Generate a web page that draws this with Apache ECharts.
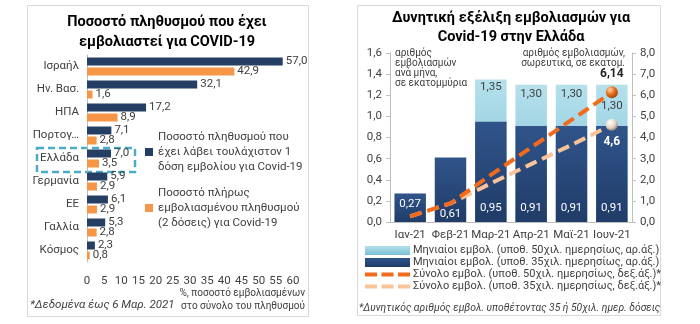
<!DOCTYPE html>
<html>
<head>
<meta charset="utf-8">
<script src="https://cdn.jsdelivr.net/npm/echarts@6/dist/echarts.min.js"></script>
<style>
  html, body { margin: 0; padding: 0; background: #fff; }
  #chart { width: 700px; height: 324px; }
</style>
</head>
<body>
<div id="chart"></div>
<script>
// ---------- Data (left chart) ----------
const countries = ['Ισραήλ', 'Ην. Βασ.', 'ΗΠΑ', 'Πορτογ…', 'Ελλάδα', 'Γερμανία', 'ΕΕ', 'Γαλλία', 'Κόσμος'];
const atLeastOneDose = [57.0, 32.1, 17.2, 7.1, 7.0, 5.9, 6.1, 5.3, 2.3];
const fullyVaccinated = [42.9, 1.6, 8.9, 2.8, 3.5, 2.9, 2.9, 2.8, 0.8];
const leftTicks = [0, 5, 10, 15, 20, 25, 30, 35, 40, 45, 50, 55, 60];

// ---------- Data (right chart) ----------
const months = ['Ιαν-21', 'Φεβ-21', 'Μαρ-21', 'Απρ-21', 'Μαϊ-21', 'Ιουν-21'];
const monthly50k = [null, null, 1.35, 1.30, 1.30, 1.30];
const monthly35k = [0.27, 0.61, 0.95, 0.91, 0.91, 0.91];
const cumulative50k = [0.27, 0.88, 2.23, 3.53, 4.83, 6.14];
const cumulative35k = [0.27, 0.88, 1.83, 2.74, 3.65, 4.6];
const leftAxisTicks = [0, 0.2, 0.4, 0.6, 0.8, 1.0, 1.2, 1.4, 1.6];
const rightAxisTicks = [0, 1, 2, 3, 4, 5, 6, 7, 8];

const nameDose1 = 'Ποσοστό πληθυσμού που έχει λάβει τουλάχιστον 1 δόση εμβολίου για Covid-19';
const nameFull = 'Ποσοστό πλήρως εμβολιασμένου πληθυσμού (2 δόσεις) για Covid-19';
const nameM50 = 'Μηνιαίοι εμβολ. (υποθ. 50χιλ. ημερησίως, αρ.άξ.)';
const nameM35 = 'Μηνιαίοι εμβολ. (υποθ. 35χιλ. ημερησίως, αρ.άξ.)';
const nameC50 = 'Σύνολο εμβολ. (υποθ. 50χιλ. ημερησίως, δεξ.άξ.)*';
const nameC35 = 'Σύνολο εμβολ. (υποθ. 35χιλ. ημερησίως, δεξ.άξ.)*';

// ---------- Helpers ----------
const FONT = 'Roboto';
const TXT = '#404040';
const fmt1 = v => Number(v).toFixed(1).replace('.', ',');
const fmt2 = v => Number(v).toFixed(2).replace('.', ',');

const chart = echarts.init(document.getElementById('chart'), null, { renderer: 'canvas' });

const darkGrad = new echarts.graphic.LinearGradient(0, 0, 0, 1, [
  { offset: 0, color: '#30548a' }, { offset: 1, color: '#203c68' }
]);
const lightGrad = new echarts.graphic.LinearGradient(0, 0, 0, 1, [
  { offset: 0, color: '#b5e0ec' }, { offset: 1, color: '#78bfd5' }
]);
const ballOrange = new echarts.graphic.RadialGradient(0.35, 0.3, 0.75, [
  { offset: 0, color: '#ffd8b0' }, { offset: 0.5, color: '#e8701f' }, { offset: 1, color: '#9c400a' }
]);
const ballLight = new echarts.graphic.RadialGradient(0.35, 0.3, 0.75, [
  { offset: 0, color: '#ffffff' }, { offset: 0.6, color: '#e9d3c2' }, { offset: 1, color: '#8a7a70' }
]);

// per-item label placements for right chart bars
const lightLabelDist = [3, 3, 2, 3, 3, 15];
const darkLabelPos = ['insideTop', 'insideBottom', 'insideBottom', 'insideBottom', 'insideBottom', 'insideBottom'];
const darkLabelDist = [5, 2, 8, 8, 8, 8];

const lightData = monthly50k.map((v, i) => ({
  value: v,
  label: { distance: lightLabelDist[i] }
}));
const darkData = monthly35k.map((v, i) => ({
  value: v,
  label: { position: darkLabelPos[i], distance: darkLabelDist[i] }
}));

const dashIcon = 'path://M0,0h12v4h-12z M16.5,0h12v4h-12z M33,0h12v4h-12z';

const option = {
  animation: false,
  textStyle: { fontFamily: FONT },
  grid: [
    { left: 87, top: 55, width: 206, height: 207 },
    { left: 390, top: 53, width: 242, height: 169 }
  ],
  xAxis: [
    {
      gridIndex: 0, type: 'value', min: 0, max: 60, interval: 5,
      axisLine: { show: false }, axisTick: { show: false }, splitLine: { show: false },
      axisLabel: { fontSize: 11.5, color: TXT, margin: 13, fontFamily: FONT,
        formatter: v => leftTicks.includes(v) ? String(v) : '' }
    },
    {
      gridIndex: 1, type: 'category', data: months,
      axisLine: { lineStyle: { color: '#bfbfbf' } }, axisTick: { show: false },
      axisLabel: { fontSize: 11.5, color: TXT, margin: 7, fontFamily: FONT, interval: 0 }
    }
  ],
  yAxis: [
    {
      gridIndex: 0, type: 'category', data: countries, inverse: true,
      axisLine: { lineStyle: { color: '#bfbfbf' } }, axisTick: { show: false },
      axisLabel: { fontSize: 11.5, color: TXT, margin: 8, fontFamily: FONT }
    },
    {
      gridIndex: 1, type: 'value', min: 0, max: 1.6, interval: 0.2, position: 'left',
      axisLine: { show: true, lineStyle: { color: '#bfbfbf' } },
      axisTick: { show: true, length: 4, lineStyle: { color: '#bfbfbf' } },
      splitLine: { show: false },
      axisLabel: { fontSize: 11.5, color: TXT, margin: 8, fontFamily: FONT, formatter: v => fmt1(v) }
    },
    {
      gridIndex: 1, type: 'value', min: 0, max: 8, interval: 1, position: 'right',
      axisLine: { show: true, lineStyle: { color: '#bfbfbf' } },
      axisTick: { show: true, length: 4, lineStyle: { color: '#bfbfbf' } },
      splitLine: { show: false },
      axisLabel: { fontSize: 11.5, color: TXT, margin: 8, fontFamily: FONT, formatter: v => fmt1(v) }
    }
  ],
  legend: [
    {
      data: [nameDose1], left: 145, top: 114.5, padding: 0, orient: 'vertical',
      itemWidth: 8, itemHeight: 8, itemGap: 0, icon: 'rect', selectedMode: false,
      formatter: () => 'Ποσοστό πληθυσμού που\nέχει λάβει τουλάχιστον 1\nδόση εμβολίου για Covid-19',
      textStyle: { fontSize: 11.5, color: TXT, lineHeight: 15, padding: [30, 0, 0, 0], fontFamily: FONT }
    },
    {
      data: [nameFull], left: 145, top: 170.5, padding: 0, orient: 'vertical',
      itemWidth: 8, itemHeight: 8, itemGap: 0, icon: 'rect', selectedMode: false,
      formatter: () => 'Ποσοστό πλήρως\nεμβολιασμένου πληθυσμού\n(2 δόσεις) για Covid-19',
      textStyle: { fontSize: 11.5, color: TXT, lineHeight: 15, padding: [30, 0, 0, 0], fontFamily: FONT }
    },
    {
      data: [
        { name: nameM50, icon: 'rect' },
        { name: nameM35, icon: 'rect' },
        { name: nameC50, icon: dashIcon, itemStyle: { color: '#f26b1d' } },
        { name: nameC35, icon: dashIcon, itemStyle: { color: '#fbc498' } }
      ],
      left: 365, top: 245, padding: 0, orient: 'vertical',
      itemWidth: 45, itemHeight: 9, itemGap: 1, itemSymbolKeepAspect: true, selectedMode: false,
      textStyle: { fontSize: 11, color: TXT, fontFamily: FONT, padding: [0, 0, 0, -2] }
    }
  ],
  series: [
    {
      name: nameDose1, type: 'bar', xAxisIndex: 0, yAxisIndex: 0, data: atLeastOneDose,
      barWidth: 8, barGap: '25%',
      itemStyle: { color: '#243f63' },
      label: { show: true, position: 'right', distance: 3, fontSize: 11.5, color: TXT, fontFamily: FONT,
        formatter: p => fmt1(p.value) }
    },
    {
      name: nameFull, type: 'bar', xAxisIndex: 0, yAxisIndex: 0, data: fullyVaccinated,
      barWidth: 8, barGap: '25%',
      itemStyle: { color: '#f79646' },
      label: { show: true, position: 'right', distance: 3, fontSize: 11.5, color: TXT, fontFamily: FONT,
        formatter: p => fmt1(p.value) }
    },
    {
      name: nameM50, type: 'bar', xAxisIndex: 1, yAxisIndex: 1, data: lightData,
      barCategoryGap: '22%', barGap: '-100%', z: 2,
      itemStyle: { color: lightGrad },
      label: { show: true, position: 'insideTop', fontSize: 11.5, color: TXT, fontFamily: FONT,
        formatter: p => p.value == null ? '' : fmt2(p.value) }
    },
    {
      name: nameM35, type: 'bar', xAxisIndex: 1, yAxisIndex: 1, data: darkData,
      barCategoryGap: '22%', barGap: '-100%', z: 3,
      itemStyle: { color: darkGrad },
      label: { show: true, fontSize: 11.5, color: '#ffffff', fontFamily: FONT,
        formatter: p => fmt2(p.value) }
    },
    {
      name: nameC35, type: 'line', xAxisIndex: 1, yAxisIndex: 2, data: cumulative35k, z: 5,
      symbol: 'circle', showSymbol: true,
      symbolSize: (v, p) => p.dataIndex === cumulative35k.length - 1 ? 12 : 0,
      lineStyle: { color: '#fbc498', width: 4, type: [12, 6], cap: 'butt' },
      itemStyle: { color: ballLight, borderWidth: 0 },
      label: { show: true, position: 'bottom', distance: 5, fontSize: 12, fontWeight: 'bold', color: '#ffffff',
        fontFamily: FONT, formatter: p => p.dataIndex === cumulative35k.length - 1 ? fmt1(p.value) : '' }
    },
    {
      name: nameC50, type: 'line', xAxisIndex: 1, yAxisIndex: 2, data: cumulative50k, z: 6,
      symbol: 'circle', showSymbol: true,
      symbolSize: (v, p) => p.dataIndex === cumulative50k.length - 1 ? 12 : 0,
      lineStyle: { color: '#f26b1d', width: 4, type: [12, 6], cap: 'butt' },
      itemStyle: { color: ballOrange, borderWidth: 0 },
      label: { show: true, position: 'top', distance: 6, fontSize: 12, fontWeight: 'bold', color: '#262626',
        fontFamily: FONT, formatter: p => p.dataIndex === cumulative50k.length - 1 ? fmt2(p.value) : '' }
    }
  ],
  graphic: [
    { type: 'rect', silent: true, shape: { x: 27.5, y: 5.5, width: 281, height: 311 },
      style: { fill: 'none', stroke: '#d9d9d9', lineWidth: 1 } },
    { type: 'rect', silent: true, shape: { x: 357.5, y: 5.5, width: 303, height: 310 },
      style: { fill: 'none', stroke: '#d9d9d9', lineWidth: 1 } },
    { type: 'text', silent: true, style: { text: 'Ποσοστό πληθυσμού που έχει', x: 167, y: 22,
      textAlign: 'center', textVerticalAlign: 'middle', font: 'bold 14.5px ' + FONT, fill: '#000' } },
    { type: 'text', silent: true, style: { text: 'εμβολιαστεί για COVID-19', x: 167, y: 42,
      textAlign: 'center', textVerticalAlign: 'middle', font: 'bold 14.5px ' + FONT, fill: '#000' } },
    { type: 'text', silent: true, style: { text: 'Δυνητική εξέλιξη εμβολιασμών για', x: 511, y: 18,
      textAlign: 'center', textVerticalAlign: 'middle', font: 'bold 14.5px ' + FONT, fill: '#000' } },
    { type: 'text', silent: true, style: { text: 'Covid-19 στην Ελλάδα', x: 511, y: 37,
      textAlign: 'center', textVerticalAlign: 'middle', font: 'bold 14.5px ' + FONT, fill: '#000' } },
    { type: 'rect', silent: true, shape: { x: 37, y: 148, width: 98, height: 24 },
      style: { fill: 'none', stroke: '#4bacc6', lineWidth: 2.5, lineDash: [7, 4] } },
    { type: 'text', silent: true, style: { text: '*Δεδομένα έως 6 Μαρ. 2021', x: 30, y: 305,
      textAlign: 'left', textVerticalAlign: 'middle', font: 'italic 11.5px ' + FONT, fill: TXT } },
    { type: 'text', silent: true, style: { text: '%, ποσοστό εμβολιασμένων', x: 305, y: 293,
      textAlign: 'right', textVerticalAlign: 'middle', font: '10px ' + FONT, fill: TXT } },
    { type: 'text', silent: true, style: { text: 'στο σύνολο του πληθυσμού', x: 305, y: 306,
      textAlign: 'right', textVerticalAlign: 'middle', font: '10px ' + FONT, fill: TXT } },
    { type: 'text', silent: true, style: { text: 'αριθμός\nεμβολιασμών\nανά μήνα,\nσε εκατομμύρια', x: 395, y: 48,
      textAlign: 'left', textVerticalAlign: 'top', font: '10px ' + FONT, fill: TXT, lineHeight: 10 } },
    { type: 'text', silent: true, style: { text: 'αριθμός εμβολιασμών,', x: 625, y: 53,
      textAlign: 'right', textVerticalAlign: 'middle', font: '10px ' + FONT, fill: TXT } },
    { type: 'text', silent: true, style: { text: 'σωρευτικά, σε εκατομ.', x: 625, y: 63,
      textAlign: 'right', textVerticalAlign: 'middle', font: '10px ' + FONT, fill: TXT } },
    { type: 'text', silent: true, style: { text: '*Δυνητικός αριθμός εμβολ. υποθέτοντας 35 ή 50χιλ. ημερ. δόσεις', x: 359, y: 308,
      textAlign: 'left', textVerticalAlign: 'middle', font: 'italic 10.3px ' + FONT, fill: TXT } }
  ]
};

chart.setOption(option);
</script>
</body>
</html>
